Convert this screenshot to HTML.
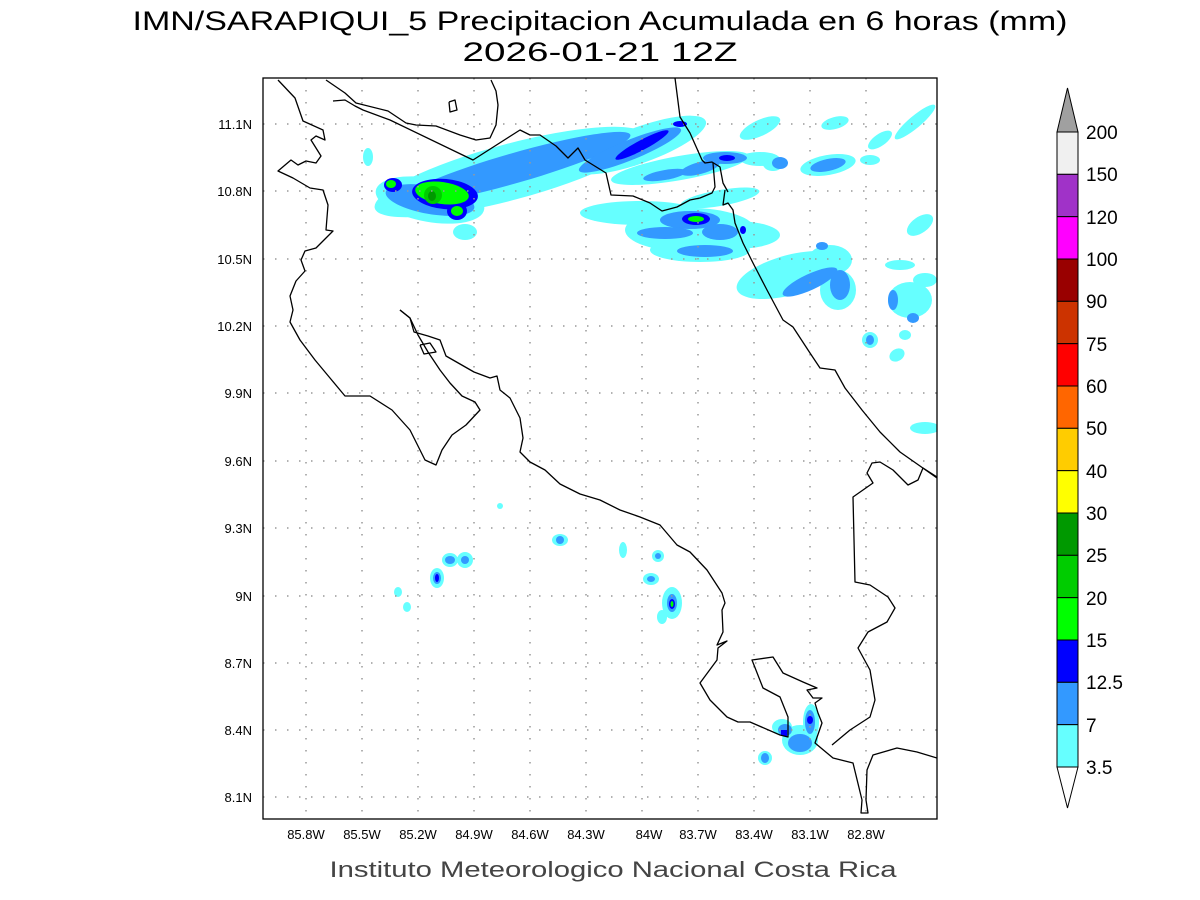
<!DOCTYPE html>
<html><head><meta charset="utf-8"><style>
html,body{margin:0;padding:0;background:#fff;}
svg{display:block;}
</style></head><body>
<svg width="1200" height="900" viewBox="0 0 1200 900" xmlns="http://www.w3.org/2000/svg" font-family="Liberation Sans, sans-serif">
<rect width="1200" height="900" fill="#fff"/>
<text x="600" y="30" font-size="27" text-anchor="middle" textLength="935" lengthAdjust="spacingAndGlyphs" fill="#000">IMN/SARAPIQUI_5 Precipitacion Acumulada en 6 horas (mm)</text>
<text x="600" y="61" font-size="27" text-anchor="middle" textLength="275" lengthAdjust="spacingAndGlyphs" fill="#000">2026-01-21 12Z</text>

<defs><clipPath id="c"><rect x="263" y="78" width="674" height="741"/></clipPath></defs>
<g clip-path="url(#c)">
<g fill="#66ffff">
<ellipse cx="510" cy="172" rx="140" ry="28" transform="rotate(-15 510 172)"/>
<ellipse cx="430" cy="200" rx="55" ry="22" transform="rotate(10 430 200)"/>
<ellipse cx="465" cy="232" rx="12" ry="8"/>
<ellipse cx="368" cy="157" rx="5" ry="9"/>
<ellipse cx="640" cy="145" rx="70" ry="18" transform="rotate(-20 640 145)"/>
<ellipse cx="680" cy="168" rx="70" ry="12" transform="rotate(-10 680 168)"/>
<ellipse cx="760" cy="128" rx="22" ry="8" transform="rotate(-25 760 128)"/>
<ellipse cx="835" cy="123" rx="14" ry="6" transform="rotate(-15 835 123)"/>
<ellipse cx="880" cy="140" rx="14" ry="6" transform="rotate(-35 880 140)"/>
<ellipse cx="915" cy="122" rx="26" ry="6" transform="rotate(-40 915 122)"/>
<ellipse cx="760" cy="159" rx="20" ry="7"/>
<ellipse cx="828" cy="165" rx="28" ry="10" transform="rotate(-10 828 165)"/>
<ellipse cx="773" cy="164" rx="10" ry="7"/>
<ellipse cx="870" cy="160" rx="10" ry="5"/>
<ellipse cx="640" cy="213" rx="60" ry="12"/>
<ellipse cx="690" cy="230" rx="65" ry="22"/>
<ellipse cx="735" cy="235" rx="45" ry="14"/>
<ellipse cx="700" cy="250" rx="50" ry="12"/>
<ellipse cx="720" cy="198" rx="40" ry="8" transform="rotate(-10 720 198)"/>
<ellipse cx="790" cy="275" rx="55" ry="20" transform="rotate(-15 790 275)"/>
<ellipse cx="830" cy="260" rx="22" ry="15"/>
<ellipse cx="838" cy="290" rx="18" ry="20"/>
<ellipse cx="910" cy="300" rx="22" ry="18"/>
<ellipse cx="900" cy="265" rx="15" ry="5"/>
<ellipse cx="920" cy="225" rx="15" ry="8" transform="rotate(-35 920 225)"/>
<ellipse cx="925" cy="280" rx="12" ry="7"/>
<ellipse cx="870" cy="340" rx="8" ry="8"/>
<ellipse cx="905" cy="335" rx="6" ry="5"/>
<ellipse cx="897" cy="355" rx="8" ry="6" transform="rotate(-30 897 355)"/>
<ellipse cx="925" cy="428" rx="15" ry="6"/>
<ellipse cx="437" cy="578" rx="7" ry="10"/>
<ellipse cx="450" cy="560" rx="8" ry="7"/>
<ellipse cx="465" cy="560" rx="8" ry="8"/>
<ellipse cx="398" cy="592" rx="4" ry="5"/>
<ellipse cx="407" cy="607" rx="4" ry="5"/>
<ellipse cx="560" cy="540" rx="8" ry="6"/>
<ellipse cx="500" cy="506" rx="3" ry="3"/>
<ellipse cx="623" cy="550" rx="4" ry="8"/>
<ellipse cx="658" cy="556" rx="6" ry="6"/>
<ellipse cx="651" cy="579" rx="8" ry="6"/>
<ellipse cx="672" cy="603" rx="10" ry="16"/>
<ellipse cx="662" cy="617" rx="5" ry="7"/>
<ellipse cx="765" cy="758" rx="7" ry="7"/>
<ellipse cx="782" cy="727" rx="10" ry="8"/>
<ellipse cx="800" cy="740" rx="18" ry="15"/>
<ellipse cx="811" cy="722" rx="8" ry="18"/>
</g>
<g fill="#3399ff">
<ellipse cx="515" cy="168" rx="120" ry="15" transform="rotate(-16 515 168)"/>
<ellipse cx="430" cy="200" rx="45" ry="14" transform="rotate(10 430 200)"/>
<ellipse cx="630" cy="150" rx="55" ry="10" transform="rotate(-22 630 150)"/>
<ellipse cx="725" cy="158" rx="22" ry="6"/>
<ellipse cx="700" cy="168" rx="20" ry="6" transform="rotate(-15 700 168)"/>
<ellipse cx="665" cy="175" rx="22" ry="5" transform="rotate(-10 665 175)"/>
<ellipse cx="780" cy="163" rx="8" ry="6"/>
<ellipse cx="828" cy="165" rx="18" ry="6" transform="rotate(-12 828 165)"/>
<ellipse cx="690" cy="220" rx="30" ry="9"/>
<ellipse cx="665" cy="233" rx="28" ry="6"/>
<ellipse cx="720" cy="232" rx="18" ry="8"/>
<ellipse cx="705" cy="251" rx="28" ry="6"/>
<ellipse cx="810" cy="282" rx="30" ry="8" transform="rotate(-25 810 282)"/>
<ellipse cx="840" cy="285" rx="10" ry="15"/>
<ellipse cx="822" cy="246" rx="6" ry="4"/>
<ellipse cx="893" cy="300" rx="5" ry="10"/>
<ellipse cx="913" cy="318" rx="6" ry="5"/>
<ellipse cx="870" cy="340" rx="4" ry="5"/>
<ellipse cx="437" cy="578" rx="4" ry="6"/>
<ellipse cx="450" cy="560" rx="5" ry="4"/>
<ellipse cx="465" cy="560" rx="4" ry="4"/>
<ellipse cx="560" cy="540" rx="4" ry="4"/>
<ellipse cx="658" cy="556" rx="3" ry="3"/>
<ellipse cx="651" cy="579" rx="4" ry="3"/>
<ellipse cx="672" cy="603" rx="5" ry="9"/>
<ellipse cx="765" cy="758" rx="4" ry="5"/>
<ellipse cx="785" cy="730" rx="7" ry="6"/>
<ellipse cx="800" cy="743" rx="12" ry="9"/>
<ellipse cx="810" cy="722" rx="5" ry="12"/>
</g>
<g fill="#0000ff">
<ellipse cx="642" cy="145" rx="30" ry="5" transform="rotate(-28 642 145)"/>
<ellipse cx="680" cy="124" rx="7" ry="3"/>
<ellipse cx="727" cy="158" rx="8" ry="3"/>
<ellipse cx="393" cy="185" rx="9" ry="7"/>
<ellipse cx="445" cy="194" rx="33" ry="15" transform="rotate(5 445 194)"/>
<ellipse cx="457" cy="211" rx="10" ry="9"/>
<ellipse cx="696" cy="219" rx="14" ry="6"/>
<ellipse cx="743" cy="230" rx="3" ry="4"/>
<ellipse cx="437" cy="578" rx="2" ry="4"/>
<ellipse cx="672" cy="604" rx="3" ry="5"/>
<rect x="781" y="730" width="6" height="6"/>
<ellipse cx="810" cy="720" rx="3" ry="4"/>
</g>
<g fill="#00ff00">
<ellipse cx="391" cy="184" rx="5" ry="4"/>
<ellipse cx="442" cy="193" rx="27" ry="11" transform="rotate(8 442 193)"/>
<ellipse cx="457" cy="211" rx="6" ry="5"/>
<ellipse cx="696" cy="219" rx="8" ry="3"/>
<ellipse cx="672" cy="604" rx="1.5" ry="3"/>
</g>
<ellipse cx="433" cy="195" rx="9" ry="9" fill="#00cc00"/>
<ellipse cx="432" cy="196" rx="4" ry="5" fill="#009900"/>

<g stroke="#999" stroke-width="1.5" stroke-dasharray="1.5,10.5">
<line x1="306" y1="78" x2="306" y2="819"/><line x1="362" y1="78" x2="362" y2="819"/><line x1="418" y1="78" x2="418" y2="819"/><line x1="474" y1="78" x2="474" y2="819"/><line x1="530" y1="78" x2="530" y2="819"/><line x1="586" y1="78" x2="586" y2="819"/><line x1="642" y1="78" x2="642" y2="819"/><line x1="698" y1="78" x2="698" y2="819"/><line x1="754" y1="78" x2="754" y2="819"/><line x1="810" y1="78" x2="810" y2="819"/><line x1="866" y1="78" x2="866" y2="819"/>
<line x1="263" y1="124" x2="937" y2="124"/><line x1="263" y1="191" x2="937" y2="191"/><line x1="263" y1="259" x2="937" y2="259"/><line x1="263" y1="326" x2="937" y2="326"/><line x1="263" y1="393" x2="937" y2="393"/><line x1="263" y1="461" x2="937" y2="461"/><line x1="263" y1="528" x2="937" y2="528"/><line x1="263" y1="596" x2="937" y2="596"/><line x1="263" y1="663" x2="937" y2="663"/><line x1="263" y1="730" x2="937" y2="730"/><line x1="263" y1="797" x2="937" y2="797"/>
</g>

<g fill="none" stroke="#000" stroke-width="1.3" stroke-linejoin="round">
<polyline points="278,80 295,98 303,121 323,130 325,140 316,136 311,140 316,148 321,156 316,163 306,161 298,165 291,160 278,171 293,178 310,188 323,190 328,205 326,230 333,231 326,238 316,248 305,251 301,260 305,271 296,281 290,296 293,310 290,322 300,340 315,360 330,378 345,396 370,396 392,410 410,430 425,460 436,465 442,450 452,435 466,425 480,410 475,402 462,396 450,383 440,370 428,352 418,335 410,318 400,310"/>
<polyline points="400,310 410,318 414,332 428,336 440,340 446,356 460,364 474,372 490,378 497,376 500,390 510,398 520,418 523,438 520,452 530,462 545,470 560,484 580,494 600,500 620,510 640,517 660,525 677,545 690,552 707,570 722,593 725,603 722,610 723,632 717,645 727,641 718,648 717,660 700,683 710,700 727,717 738,722 750,722 780,735 788,737 788,717 780,697 763,688 752,660 773,657 783,673 803,682 817,688 807,690 813,698 822,698 815,703 818,713 822,723 815,743 833,758 853,763 862,800 861,813 868,813 866,800 867,770 873,755 897,748 917,752 937,758"/>
<polyline points="832,745 850,730 870,717 875,700 870,670 858,648 868,632 887,622 895,608 888,597 870,585 855,582 853,497 873,483 867,473 872,463 880,462 893,470 908,485 918,480 923,468 937,477"/>
<polyline points="420,345 430,343 436,352 424,354 420,345"/>
<polyline points="326,80 345,93 356,103 388,111 406,123 416,125 436,126 460,135 476,140 490,138 496,125 498,105 496,91 491,80"/>
<polyline points="333,101 345,100 355,106 363,110 390,120 473,160 520,130 530,135 540,135 556,146 568,158 578,148 585,160 606,173 611,195 633,196 650,203 662,211 677,207 690,200 700,198 712,193 715,187 713,163"/>
<polyline points="675,78 680,117 690,133 702,160 705,163 712,162 720,167 723,183 728,192"/>
<polyline points="725,190 723,205 728,203 733,210 735,223 743,243 753,263 767,290 783,320 793,327 810,353 820,368 835,370 845,388 862,410 880,432 900,452 920,466 937,478"/>
<polyline points="449,102 455,100 457,110 450,112 449,102"/>
</g>
</g>
<rect x="263" y="78" width="674" height="741" fill="none" stroke="#000" stroke-width="1.3"/>

<g font-size="13" fill="#000" text-anchor="middle">
<text x="306" y="839">85.8W</text><text x="362" y="839">85.5W</text><text x="418" y="839">85.2W</text><text x="474" y="839">84.9W</text><text x="530" y="839">84.6W</text><text x="586" y="839">84.3W</text><text x="649" y="839">84W</text><text x="698" y="839">83.7W</text><text x="754" y="839">83.4W</text><text x="810" y="839">83.1W</text><text x="866" y="839">82.8W</text>
</g>
<g font-size="13" fill="#000" text-anchor="end">
<text x="252" y="129">11.1N</text><text x="252" y="196">10.8N</text><text x="252" y="264">10.5N</text><text x="252" y="331">10.2N</text><text x="252" y="398">9.9N</text><text x="252" y="466">9.6N</text><text x="252" y="533">9.3N</text><text x="252" y="601">9N</text><text x="252" y="668">8.7N</text><text x="252" y="735">8.4N</text><text x="252" y="802">8.1N</text>
</g>
<text x="613" y="877" font-size="22" text-anchor="middle" textLength="567" lengthAdjust="spacingAndGlyphs" fill="#444">Instituto Meteorologico Nacional Costa Rica</text>

<g stroke="#000" stroke-width="1">
<polygon points="1057,132 1078,132 1067.5,88" fill="#a0a0a0"/>
<rect x="1057" y="132" width="21" height="42.33" fill="#f0f0f0"/>
<rect x="1057" y="174.33" width="21" height="42.33" fill="#a032c8"/>
<rect x="1057" y="216.67" width="21" height="42.33" fill="#ff00ff"/>
<rect x="1057" y="259" width="21" height="42.33" fill="#990000"/>
<rect x="1057" y="301.33" width="21" height="42.33" fill="#cc3300"/>
<rect x="1057" y="343.67" width="21" height="42.33" fill="#ff0000"/>
<rect x="1057" y="386" width="21" height="42.33" fill="#ff6600"/>
<rect x="1057" y="428.33" width="21" height="42.33" fill="#ffcc00"/>
<rect x="1057" y="470.67" width="21" height="42.33" fill="#ffff00"/>
<rect x="1057" y="513" width="21" height="42.33" fill="#009900"/>
<rect x="1057" y="555.33" width="21" height="42.33" fill="#00cc00"/>
<rect x="1057" y="597.67" width="21" height="42.33" fill="#00ff00"/>
<rect x="1057" y="640" width="21" height="42.33" fill="#0000ff"/>
<rect x="1057" y="682.33" width="21" height="42.33" fill="#3399ff"/>
<rect x="1057" y="724.67" width="21" height="42.33" fill="#66ffff"/>
<polygon points="1057,767 1078,767 1067.5,808" fill="#fff"/>
</g>
<g font-size="19" fill="#000">
<text x="1086" y="139">200</text><text x="1086" y="181">150</text><text x="1086" y="224">120</text><text x="1086" y="266">100</text><text x="1086" y="308">90</text><text x="1086" y="351">75</text><text x="1086" y="393">60</text><text x="1086" y="435">50</text><text x="1086" y="478">40</text><text x="1086" y="520">30</text><text x="1086" y="562">25</text><text x="1086" y="605">20</text><text x="1086" y="647">15</text><text x="1086" y="689">12.5</text><text x="1086" y="732">7</text><text x="1086" y="774">3.5</text>
</g>
</svg>
</body></html>
